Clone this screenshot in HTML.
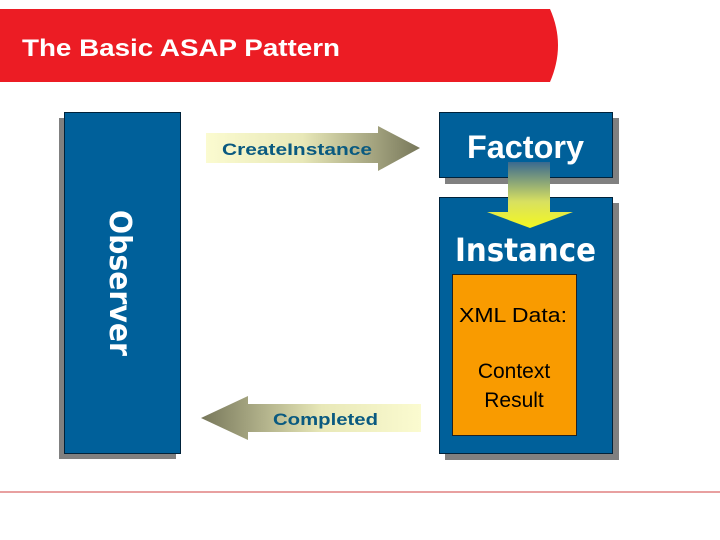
<!DOCTYPE html>
<html><head><style>
body{margin:0;width:720px;height:540px;background:#fff;position:relative;overflow:hidden;font-family:"Liberation Sans",sans-serif}
.a{position:absolute}
</style></head><body>
<svg class="a" style="left:0;top:0" width="720" height="540">
<defs>
<linearGradient id="g1" x1="0" x2="1"><stop offset="0" stop-color="#fbfbd0"/><stop offset="0.45" stop-color="#e8e8b8"/><stop offset="1" stop-color="#77775a"/></linearGradient>
<linearGradient id="g2" x1="1" x2="0"><stop offset="0" stop-color="#fbfbd0"/><stop offset="0.45" stop-color="#e8e8b8"/><stop offset="1" stop-color="#77775a"/></linearGradient>
<linearGradient id="g3" x1="0" y1="0" x2="0" y2="1"><stop offset="0" stop-color="#3a6a90"/><stop offset="0.6" stop-color="#d8e060"/><stop offset="1" stop-color="#f4f820"/></linearGradient>
</defs>
<path d="M0 9 H550 Q566 45 550 82 H0 Z" fill="#ec1c24"/>
<line x1="0" y1="492" x2="720" y2="492" stroke="#d04040" stroke-width="1"/>
<rect x="59" y="118" width="117" height="341" fill="#808080"/>
<rect x="64.5" y="112.5" width="116" height="341" fill="#00609a" stroke="#00223a"/>
<rect x="445" y="118" width="174" height="66" fill="#808080"/>
<rect x="445" y="203" width="174" height="257" fill="#808080"/>
<rect x="439.5" y="112.5" width="173" height="65" fill="#00609a" stroke="#00223a"/>
<rect x="439.5" y="197.5" width="173" height="256" fill="#00609a" stroke="#00223a"/>
<rect x="452.5" y="274.5" width="124" height="161" fill="#f99b00" stroke="#222"/>
<path d="M508 162 H550 V212 H573 L530 228 L487 212 H508 Z" fill="url(#g3)"/>
<path d="M206 133 H378 V126 L420 148 L378 171 V163 H206 Z" fill="url(#g1)"/>
<path d="M421 404 H248 V396 L201 418 L248 440 V432 H421 Z" fill="url(#g2)"/>
<text x="22" y="56" font-size="24" fill="#fff" font-weight="bold" textLength="318" lengthAdjust="spacingAndGlyphs">The Basic ASAP Pattern</text>
<text x="222" y="155" font-size="17" fill="#0a5a80" font-weight="bold" textLength="150" lengthAdjust="spacingAndGlyphs">CreateInstance</text>
<text x="273" y="425" font-size="17" fill="#0a5a80" font-weight="bold" textLength="105" lengthAdjust="spacingAndGlyphs">Completed</text>
<text x="467" y="158" font-size="32" fill="#fff" font-weight="bold" textLength="117" lengthAdjust="spacingAndGlyphs">Factory</text>
<text x="455" y="261" font-size="32" fill="#fff" font-weight="bold" font-family="DejaVu Sans" textLength="141" lengthAdjust="spacingAndGlyphs">Instance</text>
<text transform="translate(110 210) rotate(90)" font-size="30" fill="#fff" font-weight="bold" font-family="DejaVu Sans" textLength="146" lengthAdjust="spacingAndGlyphs">Observer</text>
<text x="459" y="322" font-size="20" fill="#000" textLength="108" lengthAdjust="spacingAndGlyphs">XML Data:</text>
<text x="514" y="378" font-size="21" fill="#000" text-anchor="middle">Context</text>
<text x="514" y="407" font-size="21" fill="#000" text-anchor="middle">Result</text>
</svg>
</body></html>
